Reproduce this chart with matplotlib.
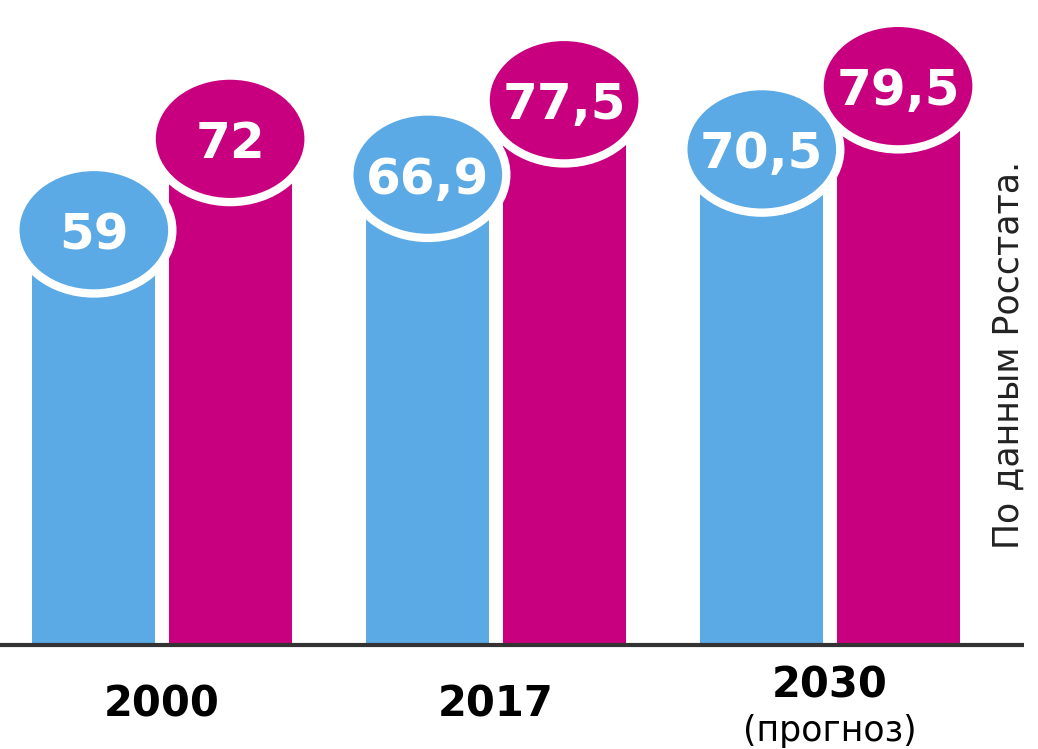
import matplotlib
matplotlib.use("Agg")
import matplotlib.pyplot as plt
from matplotlib.patches import Ellipse

# 数据
years = ["2000", "2017", "2030"]
year_notes = ["", "", "(прогноз)"]
men = [59, 66.9, 70.5]
women = [72, 77.5, 79.5]
men_labels = ["59", "66,9", "70,5"]
women_labels = ["72", "77,5", "79,5"]
source_note = "По данным Росстата."

BLUE = "#5BA9E5"
PINK = "#C8007F"

fig = plt.figure(figsize=(10.38, 7.49), dpi=100)
ax = fig.add_axes([0, 0, 1, 1])
ax.set_xlim(-0.485, 2.623)
ax.set_ylim(-14.8, 91.75)
ax.axis("off")

bar_w = 0.368
off = 0.204
ell_w = 0.47
ell_h = 18.0

# 绘制柱子和圆形标签
for i in range(len(years)):
    # 男性（蓝色）在女性柱子之上，女性圆形在最上层
    for x, v, lab, col, zb, ze in [(i - off, men[i], men_labels[i], BLUE, 2, 3),
                                   (i + off, women[i], women_labels[i], PINK, 2, 5)]:
        ax.bar(x, v, width=bar_w, color=col, zorder=zb)
        ax.add_patch(Ellipse((x, v), ell_w, ell_h, facecolor=col,
                             edgecolor="white", linewidth=6, zorder=ze))
        ax.text(x, v, lab, color="white", fontsize=36, fontweight="bold",
                ha="center", va="center_baseline", zorder=ze)

# 基线
ax.plot([-0.485, 2.58], [0, 0], color="#333333", linewidth=3, zorder=6,
        solid_capstyle="butt")

# 年份
for i, y in enumerate(years):
    if year_notes[i]:
        ax.text(i, -5.8, y, fontsize=30, fontweight="bold", ha="center", va="center")
        ax.text(i, -12.2, year_notes[i], fontsize=25, ha="center", va="center")
    else:
        ax.text(i, -8.5, y, fontsize=30, fontweight="bold", ha="center", va="center")

ax.text(2.535, 41.3, source_note, rotation=90, fontsize=25, ha="center", va="center",
        color="#222222")

fig.savefig("out.png", dpi=100)
